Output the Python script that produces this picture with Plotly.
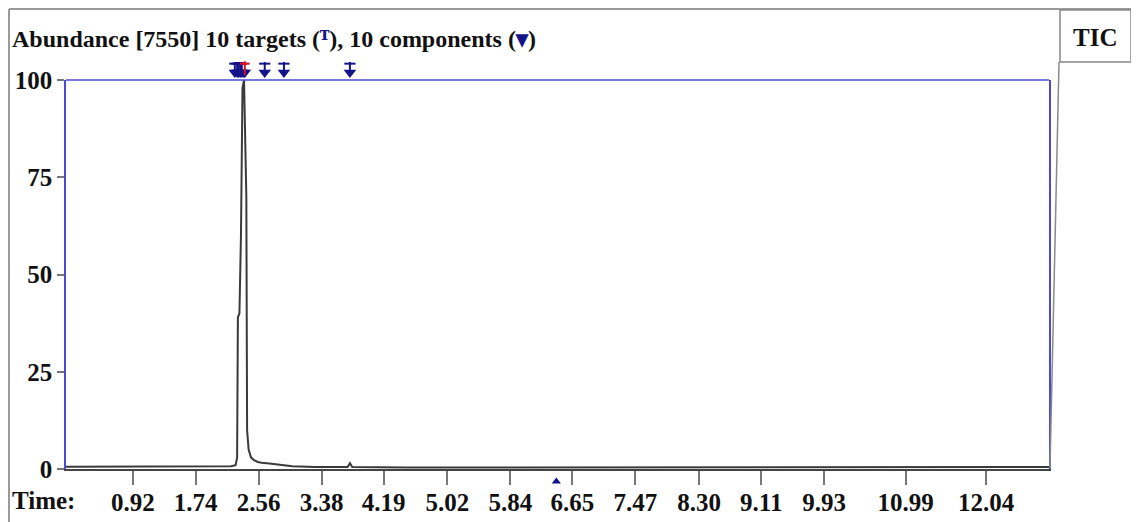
import plotly.graph_objects as go

# chromatogram (TIC), values
time = [0.05, 0.5, 1.0, 1.5, 2.0, 2.2, 2.26, 2.28, 2.29, 2.31, 2.33, 2.35, 2.37,
        2.40, 2.41, 2.43, 2.46, 2.5, 2.55, 2.6, 2.7, 2.8, 2.9, 3.0, 3.3, 3.6,
        3.72, 3.75, 3.78, 4.5, 6.0, 8.0, 10.0, 12.0, 12.86]
abundance = [0.6, 0.6, 0.6, 0.6, 0.6, 0.7, 1.0, 3.0, 39, 40, 60, 98, 100,
             70, 10, 5, 3.0, 2.3, 1.8, 1.6, 1.4, 1.2, 1.0, 0.7, 0.5, 0.5,
             0.5, 1.5, 0.5, 0.4, 0.4, 0.4, 0.4, 0.4, 0.5]

component_times = [2.25, 2.28, 2.30, 2.32, 2.34, 2.36, 2.38, 2.64, 2.89, 3.75]
target_times = [2.25, 2.28, 2.30, 2.32, 2.34, 2.64, 2.89, 3.75]
red_target_times = [2.38]
extra_marker_time = [6.44]

x_ticks = [0.92, 1.74, 2.56, 3.38, 4.19, 5.02, 5.84, 6.65, 7.47, 8.30, 9.11, 9.93, 10.99, 12.04]
y_ticks = [0, 25, 50, 75, 100]

FONT = 'Liberation Serif'
BLUE = '#4a4ad6'
NAVY = '#13138a'

# the page body adds an 8px margin, so the figure is drawn 8px in
OFF = 8
W, H = 1139 - OFF, 522 - OFF
# plotting box in window pixels
L, R, T, B = 66, 1049, 50, 490
Y0_PX, Y100_PX = 469, 80


def px_x(p):
    return (p - L) / (R - L)


def px_y(p):
    return (B - p) / (B - T)


# the marker axis spans the whole box, in abundance units
unit = (Y0_PX - Y100_PX) / 100.0
y2_range = [(Y0_PX - B) / unit, (Y0_PX - T) / unit]

fig = go.Figure()

fig.add_trace(go.Scatter(
    x=time, y=abundance, mode='lines',
    line=dict(color='#3a3a3a', width=2), hoverinfo='skip'
))

# target / component markers above the 100 line
fig.add_trace(go.Scatter(
    x=target_times, y=[103.0] * len(target_times), yaxis='y2', mode='markers',
    marker=dict(symbol='line-ns', size=9, line=dict(color=NAVY, width=2))
))
fig.add_trace(go.Scatter(
    x=target_times, y=[104.2] * len(target_times), yaxis='y2', mode='markers',
    marker=dict(symbol='line-ew', size=8, line=dict(color=NAVY, width=2))
))
fig.add_trace(go.Scatter(
    x=component_times, y=[101.9] * len(component_times), yaxis='y2', mode='markers',
    marker=dict(symbol='triangle-down', size=11, color=NAVY)
))
fig.add_trace(go.Scatter(
    x=red_target_times, y=[103.0], yaxis='y2', mode='markers',
    marker=dict(symbol='line-ns', size=10, line=dict(color='#e01020', width=2))
))
fig.add_trace(go.Scatter(
    x=red_target_times, y=[104.2], yaxis='y2', mode='markers',
    marker=dict(symbol='line-ew', size=7, line=dict(color='#e01020', width=2))
))
fig.add_trace(go.Scatter(
    x=extra_marker_time, y=[-3.2], yaxis='y2', mode='markers',
    marker=dict(symbol='triangle-up', size=8, color=NAVY)
))

tick_font = dict(family=FONT, size=25, color='#111111', weight='bold')

fig.update_layout(
    xaxis=dict(
        range=[0.05, 12.86], tickvals=x_ticks, ticktext=['%.2f' % v for v in x_ticks],
        ticks='outside', ticklen=14, tickwidth=1.5, tickcolor='#777777',
        showline=True, linecolor='#444444', linewidth=2, anchor='y',
        showgrid=False, zeroline=False, tickfont=tick_font, automargin=False,
        ticklabelstandoff=-4
    ),
    yaxis=dict(
        range=[0, 100], tickvals=y_ticks, domain=[px_y(Y0_PX), px_y(Y100_PX)],
        ticks='outside', ticklen=7, tickwidth=1.5, tickcolor='#777777',
        showline=True, linecolor=BLUE, linewidth=1.5, mirror=True,
        showgrid=False, zeroline=False, tickfont=tick_font, automargin=False
    ),
    yaxis2=dict(range=y2_range, domain=[0, 1], anchor='x', visible=False,
                automargin=False),
)

fig.update_layout(
    width=W, height=H,
    margin=dict(l=L - OFF, r=1139 - R, t=T - OFF, b=522 - B),
    paper_bgcolor='white', plot_bgcolor='rgba(0,0,0,0)',
    showlegend=False,
    shapes=[
        # blue top of the plot frame
        dict(type='line', xref='paper', yref='paper', x0=0, x1=1,
             y0=px_y(Y100_PX), y1=px_y(Y100_PX), line=dict(color=BLUE, width=1.5)),
        # outer grey frame
        dict(type='line', xref='paper', yref='paper', x0=px_x(9), x1=px_x(1139),
             y0=px_y(9), y1=px_y(9), line=dict(color='#9a9a9a', width=2)),
        dict(type='line', xref='paper', yref='paper', x0=px_x(9), x1=px_x(9),
             y0=px_y(9), y1=px_y(522), line=dict(color='#9a9a9a', width=2)),
        # TIC box
        dict(type='rect', xref='paper', yref='paper', x0=px_x(1060), x1=px_x(1131),
             y0=px_y(10), y1=px_y(62), line=dict(color='#888888', width=1.5),
             fillcolor='white'),
        # trace running up to the TIC box at the end of the run
        dict(type='line', xref='paper', yref='paper', x0=px_x(1050), x1=px_x(1059),
             y0=px_y(468), y1=px_y(62), line=dict(color='#8a8a8a', width=1.5)),
    ],
    annotations=[
        dict(xref='paper', yref='paper', x=px_x(10), y=px_y(39), xanchor='left',
             yanchor='middle', showarrow=False,
             text="Abundance [7550] 10 targets (<span style='color:%s'>ᵀ</span>), "
                  "10 components (<span style='color:%s'>▾</span>)" % (NAVY, NAVY),
             font=dict(family=FONT, size=24, color='#111111', weight='bold')),
        dict(xref='paper', yref='paper', x=px_x(1095), y=px_y(37), xanchor='center',
             yanchor='middle', showarrow=False, text='TIC',
             font=dict(family=FONT, size=25, color='#111111', weight='bold')),
        dict(xref='paper', yref='paper', x=px_x(10), y=px_y(500), xanchor='left',
             yanchor='middle', showarrow=False, text='Time:',
             font=dict(family=FONT, size=25, color='#111111', weight='bold')),
    ]
)

fig.write_html('out.html')
